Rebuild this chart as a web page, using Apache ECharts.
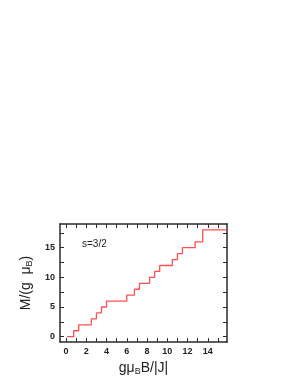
<!DOCTYPE html>
<html><head><meta charset="utf-8">
<script src="https://cdn.jsdelivr.net/npm/echarts@6/dist/echarts.min.js"></script>
<style>html,body{margin:0;padding:0;background:#fff}#c{width:300px;height:388px}</style>
</head><body><div id="c"></div>
<script>
var fieldSteps = [0.1, 0.75, 1.25, 2.5, 3, 3.5, 4, 6, 6.75, 7.25, 8.25, 8.75, 9.25, 10.5, 11, 11.5, 12.75, 13.5, 15.9];
var magnetization = [0, 1, 2, 3, 4, 5, 6, 7, 8, 9, 10, 11, 12, 13, 14, 15, 16, 18, 18];
var xTicks = [0,1,2,3,4,5,6,7,8,9,10,11,12,13,14,15];
var xLabels = [0,2,4,6,8,10,12,14];
var yTicks = [0,2.5,5,7.5,10,12.5,15,17.5];
var yLabels = [0,5,10,15];
var seriesLabel = 's=3/2';

var data = fieldSteps.map(function(x,i){return [x, magnetization[i]];});
var axisColor = '#2a2a2a';
var font = 'Liberation Sans';
function xAx(pos, show){
  return {type:'value', position:pos, min:-0.6, max:15.9,
    axisLine:{show:true, onZero:false, lineStyle:{color:axisColor, width:1.5}},
    axisTick:{show:true, inside:true, length:4, customValues:xTicks, lineStyle:{color:axisColor, width:1}},
    axisLabel:{show:show, customValues:xLabels, color:'#222', fontSize:9, fontWeight:'bold', fontFamily:font, margin:5},
    splitLine:{show:false},
    name: show ? '{a|gμ}{s|B}{a|B/|J|}' : '', nameLocation:'middle', nameGap:19,
    nameTextStyle:{rich:{a:{fontSize:14,fontFamily:font,color:'#222'}, s:{fontSize:9,fontFamily:font,color:'#222',verticalAlign:'bottom',padding:[6,0,0,0]}}}
  };
}
function yAx(pos, show){
  return {type:'value', position:pos, min:-0.9, max:19,
    axisLine:{show:true, onZero:false, lineStyle:{color:axisColor, width:1.5}},
    axisTick:{show:true, inside:true, length:4, customValues:yTicks, lineStyle:{color:axisColor, width:1}},
    axisLabel:{show:show, customValues:yLabels, color:'#222', fontSize:9, fontWeight:'bold', fontFamily:font, margin:5},
    splitLine:{show:false},
    name: show ? '{a|M/(g  μ}{s|B}{a|)}' : '', nameLocation:'middle', nameGap:22, nameRotate:90,
    nameTextStyle:{rich:{a:{fontSize:14,fontFamily:font,color:'#222'}, s:{fontSize:9,fontFamily:font,color:'#222',verticalAlign:'bottom',padding:[6,0,0,0]}}}
  };
}
var chart = echarts.init(document.getElementById('c'));
chart.setOption({
  animation:false,
  grid:{left:60, right:73, top:224, bottom:46},
  xAxis:[xAx('bottom', true), xAx('top', false)],
  yAxis:[yAx('left', true), yAx('right', false)],
  graphic:[{type:'text', left:82, top:239, style:{text:seriesLabel, fontSize:10, fontFamily:font, fill:'#222'}}],
  series:[{type:'line', step:'end', data:data, showSymbol:false, symbol:'none',
    lineStyle:{color:'#ff5050', width:1.3}}]
});
</script></body></html>
